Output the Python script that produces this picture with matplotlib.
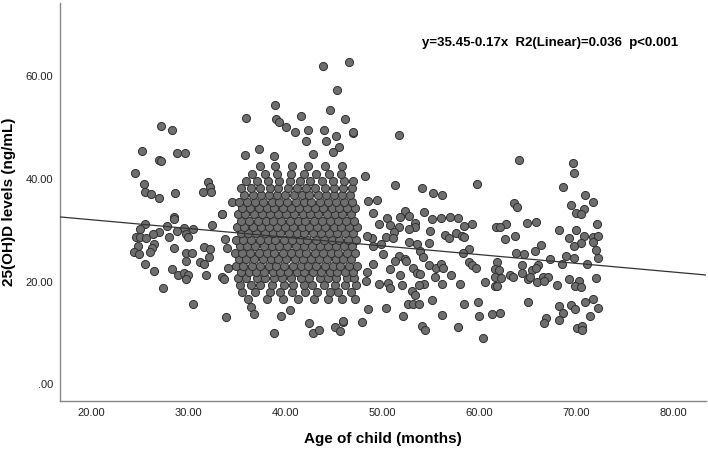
import matplotlib.pyplot as plt
import numpy as np

plt.rcParams['font.family'] = 'Liberation Sans'

# sparse points (age in months, 25(OH)D ng/mL)
left_x = [27.2, 28.3, 25.2, 28.9, 29.7, 27.0, 27.2, 24.5, 25.4, 25.6, 26.2, 27.0, 28.6, 32.0, 32.3,
          31.5, 32.4, 34.5, 33.5, 28.5, 28.5, 25.6, 32.5, 27.8, 29.6, 30.5, 25.0, 28.8, 27.0, 26.4,
          29.8, 24.6, 25.0, 25.7, 28.0, 30.0, 26.5, 24.8, 28.5, 26.3, 31.6, 32.3, 24.4, 24.9, 26.1,
          29.8, 30.4, 32.1, 29.8, 31.2, 31.6, 25.6, 26.5, 28.3, 29.0, 29.6, 30.0, 29.8, 31.8, 33.5,
          33.7, 27.4, 30.5, 33.9, 34.0, 33.8, 34.1, 33.5]
left_y = [50.3, 49.6, 45.5, 45.0, 45.0, 43.8, 43.6, 41.2, 39.1, 37.4, 37.1, 36.3, 37.3, 39.5, 38.5,
          37.4, 37.4, 35.6, 33.1, 32.6, 32.2, 31.3, 31.1, 30.9, 30.5, 30.2, 30.2, 29.9, 29.6, 29.2,
          29.2, 28.7, 28.7, 28.5, 28.7, 28.6, 27.4, 26.9, 26.6, 26.6, 26.8, 26.4, 25.7, 25.3, 25.7,
          25.6, 25.6, 24.8, 24.0, 23.8, 23.5, 23.5, 22.1, 22.5, 21.3, 21.7, 21.3, 20.5, 21.2, 20.8,
          20.4, 18.7, 15.6, 13.1, 26.6, 28.3, 22.7, 33.2]

mid_x = [51.7, 51.3, 54.1, 55.3, 49.5, 48.6, 48.2, 52.4, 51.9, 52.8, 54.3, 55.1, 50.5, 49.7, 49.1,
         50.8, 51.7, 53.4, 53.4, 52.8, 54.9, 51.2, 50.4, 51.1, 49.0, 48.4, 52.8, 53.6, 54.8, 49.9,
         49.1, 53.9, 54.2, 50.1, 51.7, 52.4, 51.3, 52.5, 49.1, 50.8, 54.8, 55.6, 53.2, 53.6, 48.4,
         51.8, 53.9, 55.5, 49.7, 50.6, 52.1, 50.8, 54.3, 53.8, 48.3, 53.1, 53.4, 55.2, 52.7, 53.2,
         53.8, 50.4, 48.6, 52.2, 54.1, 54.4, 47.9, 46.0, 47.0]
mid_y = [48.5, 38.9, 38.2, 37.2, 35.9, 35.8, 40.6, 33.7, 32.6, 32.8, 33.5, 32.2, 32.4, 31.3, 33.3,
         31.1, 30.7, 31.5, 30.6, 30.2, 29.9, 29.6, 28.6, 28.5, 28.5, 28.9, 27.8, 27.4, 27.6, 27.3,
         26.9, 25.9, 24.8, 25.3, 25.0, 24.4, 24.0, 24.0, 23.5, 22.4, 23.3, 22.7, 22.7, 21.6, 21.8,
         21.3, 21.4, 20.9, 19.6, 19.8, 19.3, 18.8, 19.6, 19.3, 20.1, 18.2, 17.4, 16.4, 15.6, 15.7,
         15.7, 14.8, 14.6, 13.3, 11.3, 10.5, 12.1, 12.1, 49.0]

right_x = [64.1, 69.7, 69.8, 59.8, 56.2, 68.7, 70.9, 71.8, 63.6, 63.9, 69.5, 70.8, 70.0, 70.5, 57.0,
           57.8, 56.1, 59.3, 58.5, 65.0, 65.9, 62.8, 61.8, 62.2, 72.2, 68.2, 70.0, 57.6, 56.5, 56.9,
           58.2, 58.5, 63.7, 62.7, 69.3, 70.8, 71.8, 72.3, 71.8, 70.5, 66.4, 69.8, 65.8, 59.0, 58.4,
           72.1, 63.8, 64.6, 69.0, 69.8, 72.3, 67.3, 61.9, 59.0, 59.3, 59.7, 56.1, 56.3, 64.4, 66.1,
           68.6, 71.1, 61.7, 62.1, 65.5, 65.9, 57.1, 64.4, 63.2, 63.5, 61.7, 62.3, 65.1, 65.3, 66.6,
           67.1, 66.0, 66.7, 69.3, 70.3, 72.1, 56.2, 58.0, 60.6, 61.6, 61.9, 68.0, 69.9, 70.5, 65.1,
           58.5, 59.9, 68.2, 69.5, 69.9, 70.9, 71.8, 72.3, 56.2, 60.0, 61.3, 62.2, 68.7, 71.4, 66.9,
           66.7, 68.2, 57.8, 70.1, 70.6, 70.6, 60.4]
right_y = [43.7, 43.1, 41.2, 39.0, 36.9, 38.5, 36.9, 35.6, 35.3, 34.5, 34.9, 34.1, 33.3, 33.2, 32.6,
           32.3, 32.3, 31.3, 30.8, 31.5, 31.7, 31.2, 30.6, 30.6, 31.3, 30.0, 30.0, 29.5, 29.1, 28.5,
           28.9, 28.6, 28.8, 28.3, 28.5, 28.9, 28.7, 28.9, 27.8, 27.6, 27.2, 27.0, 25.9, 26.3, 25.5,
           26.2, 25.5, 25.3, 25.0, 24.6, 24.6, 24.4, 23.9, 23.9, 23.3, 22.7, 23.5, 22.7, 23.3, 23.3,
           23.5, 23.5, 22.5, 22.2, 22.3, 22.6, 21.2, 21.6, 21.2, 20.8, 20.8, 20.6, 20.4, 20.9, 20.8,
           20.8, 19.9, 20.1, 20.5, 20.1, 20.6, 19.5, 19.6, 19.9, 19.2, 19.2, 19.4, 19.2, 19.0, 16.0,
           15.7, 16.0, 15.3, 15.4, 14.7, 16.0, 16.6, 14.9, 13.4, 13.3, 13.6, 13.9, 13.9, 13.3, 12.8,
           11.9, 12.5, 11.2, 11.0, 11.3, 10.5, 9.0]

top_x = [43.9, 46.6, 45.4, 39.0, 36.0, 44.6, 41.6, 39.1, 39.4, 46.2, 40.1, 41.0, 42.4, 44.0, 47.0,
         45.3, 42.2, 44.2, 45.6, 37.3, 42.9, 44.9, 35.9, 38.9,
         36.5, 36.8, 39.6, 40.5, 42.5, 42.9, 43.5, 38.9, 45.1, 45.7, 46.0]
top_y = [62.1, 62.9, 57.4, 54.5, 51.9, 53.4, 52.3, 51.7, 51.1, 51.7, 50.1, 49.1, 49.5, 49.6, 49.2,
         48.3, 47.4, 47.4, 46.3, 45.8, 44.9, 45.2, 44.6, 44.4,
         15.0, 13.6, 13.2, 14.4, 12.0, 9.9, 10.5, 9.9, 11.2, 10.3, 12.2]

# dense block 35-47 months, estimated row by row
dense_rows_y = [16.6, 18.0, 19.3, 20.6, 21.9, 23.1, 24.4, 25.6, 26.9, 28.1, 29.4,
                30.6, 31.9, 33.1, 34.4, 35.6, 36.9, 38.2, 39.6, 41.0, 42.5]
dense_rows_x = [
    [36.2, 38.1, 39.8, 41.3, 43.0, 44.4, 45.9, 47.2],
    [35.6, 36.9, 38.4, 39.5, 40.7, 42.1, 43.3, 44.6, 45.5, 46.8],
    [35.3, 36.5, 37.4, 38.6, 39.9, 40.8, 41.9, 42.8, 44.0, 45.1, 46.2, 47.3],
    [35.1, 36.0, 37.1, 37.9, 38.9, 39.7, 40.6, 41.6, 42.5, 43.6, 44.4, 45.3, 46.4, 47.1],
    [35.4, 36.3, 37.0, 37.8, 38.7, 39.5, 40.3, 41.2, 42.0, 42.9, 43.7, 44.6, 45.4, 46.2, 47.0],
    [34.9, 35.7, 36.6, 37.4, 38.3, 39.1, 39.9, 40.8, 41.6, 42.4, 43.2, 44.1, 44.9, 45.7, 46.6, 47.4],
    [35.2, 36.0, 36.8, 37.7, 38.5, 39.3, 40.1, 41.0, 41.8, 42.7, 43.5, 44.3, 45.2, 46.0, 46.8],
    [34.8, 35.6, 36.4, 37.3, 38.1, 38.9, 39.8, 40.6, 41.4, 42.2, 43.1, 43.9, 44.7, 45.5, 46.4, 47.2],
    [35.3, 36.1, 36.9, 37.8, 38.6, 39.4, 40.2, 41.1, 41.9, 42.8, 43.6, 44.4, 45.3, 46.1, 46.9],
    [34.9, 35.7, 36.5, 37.4, 38.2, 39.0, 39.9, 40.7, 41.5, 42.3, 43.2, 44.0, 44.8, 45.6, 46.5, 47.3],
    [35.4, 36.2, 37.0, 37.9, 38.7, 39.5, 40.4, 41.2, 42.0, 42.9, 43.7, 44.5, 45.4, 46.2, 47.0],
    [35.0, 35.8, 36.7, 37.5, 38.3, 39.2, 40.0, 40.8, 41.7, 42.5, 43.3, 44.1, 45.0, 45.8, 46.6, 47.4],
    [35.5, 36.3, 37.2, 38.0, 38.8, 39.6, 40.5, 41.3, 42.1, 43.0, 43.8, 44.6, 45.5, 46.3, 47.1],
    [35.1, 35.9, 36.8, 37.6, 38.4, 39.3, 40.1, 40.9, 41.8, 42.6, 43.4, 44.3, 45.1, 45.9, 46.8],
    [35.6, 36.4, 37.3, 38.1, 38.9, 39.8, 40.6, 41.4, 42.3, 43.1, 43.9, 44.8, 45.6, 46.4, 47.2],
    [35.2, 36.1, 36.9, 37.7, 38.6, 39.4, 40.2, 41.1, 41.9, 42.7, 43.6, 44.4, 45.2, 46.1, 46.9],
    [35.8, 36.7, 37.5, 38.3, 39.2, 40.0, 40.9, 41.7, 42.5, 43.4, 44.2, 45.0, 45.9, 46.7],
    [35.5, 36.5, 37.4, 38.4, 39.3, 40.3, 41.2, 42.2, 43.1, 44.1, 45.0, 46.0, 46.9],
    [36.0, 37.1, 38.2, 39.4, 40.5, 41.5, 42.6, 43.8, 44.9, 46.1, 47.0],
    [36.6, 37.9, 39.2, 40.6, 41.9, 43.2, 44.5, 45.8],
    [37.4, 39.0, 40.7, 42.4, 44.1, 45.9],
]

slope, intercept = -0.17, 35.45
xlim = (16.8, 83.4)

xs = left_x + mid_x + right_x + top_x
ys = left_y + mid_y + right_y + top_y
for yv, row in zip(dense_rows_y, dense_rows_x):
    xs += row
    ys += [yv] * len(row)

fig = plt.figure(figsize=(7.08, 4.5), dpi=100)
ax = fig.add_axes([0.085, 0.109, 0.912, 0.884])

ax.scatter(xs, ys, s=34, c='#6e6e6e', edgecolors='#2f2f2f', linewidths=0.7, zorder=3)
lx = np.array(xlim)
ax.plot(lx, intercept + slope * lx, color='#333333', lw=0.9, zorder=4)

ax.set_xlim(*xlim)
ax.set_ylim(-3.3, 74.3)
ax.set_xticks([20, 30, 40, 50, 60, 70, 80])
ax.set_xticklabels(['20.00', '30.00', '40.00', '50.00', '60.00', '70.00', '80.00'])
ax.set_yticks([0, 20, 40, 60])
ax.set_yticklabels(['.00', '20.00', '40.00', '60.00'])
ax.tick_params(length=0, labelsize=8, colors='#222222', pad=5)
for side in ['top', 'right']:
    ax.spines[side].set_visible(False)
for side in ['left', 'bottom']:
    ax.spines[side].set_color('#888888')
    ax.spines[side].set_linewidth(1.0)

ax.set_xlabel('Age of child (months)', fontsize=11, fontweight='bold', va='center')
ax.xaxis.set_label_coords(0.5, -0.095)
ax.set_ylabel('25(OH)D levels (ng/mL)', fontsize=11, fontweight='bold')
ax.yaxis.set_label_coords(-0.068, 0.5)
fig.text(0.596, 0.905, 'y=35.45-0.17x  R2(Linear)=0.036  p<0.001',
         fontsize=9.5, fontweight='bold', va='center')

fig.savefig('out.png', dpi=100)
